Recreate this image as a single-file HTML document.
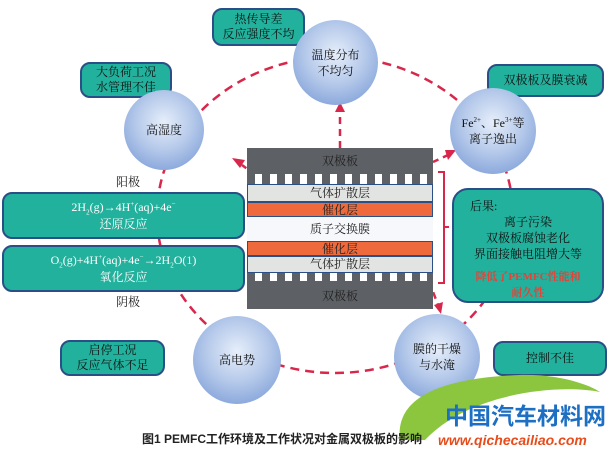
<!DOCTYPE html>
<html><head><meta charset="utf-8"><style>
body{margin:0;width:614px;height:453px;background:#fff;overflow:hidden;position:relative;font-family:"Liberation Serif","Noto Serif CJK SC",serif;}
.b{position:absolute;background:#22b19c;border:2px solid #2a4f86;border-radius:10px;box-sizing:border-box;text-align:center;font-size:12px;color:#111;line-height:15px;display:flex;flex-direction:column;justify-content:center;}
.c{position:absolute;border-radius:50%;background:radial-gradient(circle at 50% 40%,#e6eefa 0%,#b5c9ea 45%,#6f93d3 100%);text-align:center;font-size:12px;line-height:16px;color:#111;display:flex;flex-direction:column;justify-content:center;}
.l{position:absolute;font-size:12px;color:#222;}
.s{position:absolute;left:247px;width:186px;text-align:center;box-sizing:border-box;font-size:12px;line-height:14px;color:#222;}
sup,sub{font-size:7px;line-height:0;}
</style></head><body>
<svg width="614" height="453" style="position:absolute;left:0;top:0">
<ellipse cx="335" cy="215" rx="178" ry="158" fill="none" stroke="#d8274a" stroke-width="2.5" stroke-dasharray="9,6"/>
<line x1="340" y1="148" x2="340" y2="112" stroke="#d8274a" stroke-width="2.5" stroke-dasharray="7,5"/>
<polygon points="335,112 345,112 340,102" fill="#d8274a"/>
<line x1="255" y1="175" x2="242" y2="165" stroke="#d8274a" stroke-width="2.5" stroke-dasharray="6,5"/>
<polygon points="232,158 245,160 240,168" fill="#d8274a"/>
<line x1="433" y1="162" x2="448" y2="155" stroke="#d8274a" stroke-width="2.5" stroke-dasharray="6,5"/>
<polygon points="456,150 445,150 448,160" fill="#d8274a"/>
<line x1="412" y1="236" x2="438" y2="305" stroke="#d8274a" stroke-width="2.5" stroke-dasharray="7,5"/>
<polygon points="434,305 443,302 441,314" fill="#d8274a"/>
<path d="M438 172 h6 v55 h5 M444 227 v56 h-6" fill="none" stroke="#d8274a" stroke-width="2"/>
</svg>
<div class="b" style="left:212px;top:8px;width:93px;height:38px"><div>热传导差</div><div>反应强度不均</div></div>
<div class="b" style="left:80px;top:62px;width:92px;height:36px"><div>大负荷工况</div><div>水管理不佳</div></div>
<div class="b" style="left:487px;top:64px;width:117px;height:33px">双极板及膜衰减</div>
<div class="c" style="left:293px;top:20px;width:85px;height:85px"><div>温度分布</div><div>不均匀</div></div>
<div class="c" style="left:124px;top:90px;width:80px;height:80px">高湿度</div>
<div class="c" style="left:450px;top:88px;width:86px;height:86px"><div>Fe<sup>2+</sup>、Fe<sup>3+</sup>等</div><div>离子逸出</div></div>
<div class="l" style="left:116px;top:173px">阳极</div>
<div class="l" style="left:116px;top:293px">阴极</div>
<div class="b" style="left:2px;top:192px;width:243px;height:47px;color:#fff;line-height:17px"><div>2H<sub>2</sub>(g)→4H<sup>+</sup>(aq)+4e<sup>−</sup></div><div>还原反应</div></div>
<div class="b" style="left:2px;top:245px;width:243px;height:47px;color:#fff;line-height:17px"><div>O<sub>2</sub>(g)+4H<sup>+</sup>(aq)+4e<sup>−</sup>→2H<sub>2</sub>O(1)</div><div>氧化反应</div></div>
<div class="s" style="top:148px;height:32px;background:#5d6064;padding-top:6px">双极板</div>
<div class="s" style="top:174px;height:10px;background:repeating-linear-gradient(90deg,#5d6064 0 8px,#fff 8px 15px)"></div>
<div class="s" style="top:184px;height:18px;background:#e2e4e2;border:1px solid #2a4f86;padding-top:1px">气体扩散层</div>
<div class="s" style="top:202px;height:15px;background:#ee6a3c;border:1px solid #2a4f86">催化层</div>
<div class="s" style="top:217px;height:24px;background:#f6f8fc;padding-top:5px">质子交换膜</div>
<div class="s" style="top:241px;height:15px;background:#ee6a3c;border:1px solid #2a4f86">催化层</div>
<div class="s" style="top:256px;height:17px;background:#e2e4e2;border:1px solid #2a4f86">气体扩散层</div>
<div class="s" style="top:273px;height:10px;background:repeating-linear-gradient(90deg,#5d6064 0 8px,#fff 8px 15px)"></div>
<div class="s" style="top:281px;height:28px;background:#5d6064;padding-top:8px">双极板</div>
<div class="b" style="left:452px;top:188px;width:152px;height:115px;border-radius:16px;justify-content:flex-start;padding-top:8px;line-height:16px"><div style="text-align:left;padding-left:16px">后果:</div><div>离子污染</div><div>双极板腐蚀老化</div><div>界面接触电阻增大等</div><div style="color:#e0443a;font-weight:bold;margin-top:7px;font-size:11px">降低了PEMFC性能和<br>耐久性</div></div>
<div class="c" style="left:193px;top:316px;width:88px;height:88px">高电势</div>
<div class="c" style="left:394px;top:314px;width:86px;height:86px"><div>膜的干燥</div><div>与水淹</div></div>
<div class="b" style="left:60px;top:340px;width:105px;height:36px"><div>启停工况</div><div>反应气体不足</div></div>
<div class="b" style="left:493px;top:341px;width:114px;height:35px">控制不佳</div>
<svg width="614" height="453" style="position:absolute;left:0;top:0">
<path d="M400 440 C395 395 445 378 520 375 C560 374 590 385 600 392 C560 384 470 392 425 440 Z" fill="#8cc63f"/>
<text x="445" y="424" font-family="Liberation Sans,Noto Sans CJK SC,sans-serif" font-weight="bold" font-size="23" fill="#1d6fc4">中国汽车材料网</text>
<text x="438" y="445" font-family="Liberation Sans,sans-serif" font-weight="bold" font-style="italic" font-size="14" fill="#e84c1b">www.qichecailiao.com</text>
</svg>
<div style="position:absolute;left:142px;top:430px;font-family:'Liberation Sans','Noto Sans CJK SC',sans-serif;font-weight:bold;font-size:12px;color:#222">图1 PEMFC工作环境及工作状况对金属双极板的影响</div>
</body></html>
